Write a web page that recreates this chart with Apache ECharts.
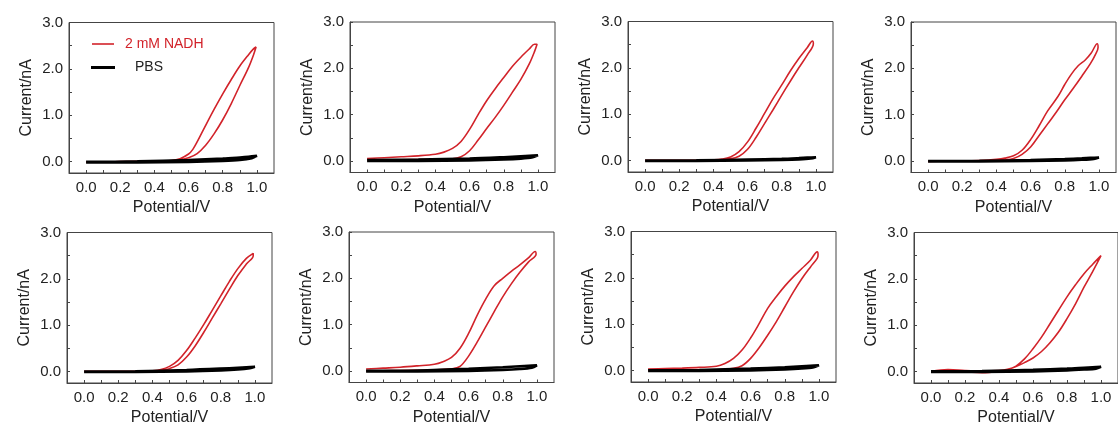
<!DOCTYPE html>
<html>
<head>
<meta charset="utf-8">
<script src="https://cdn.jsdelivr.net/npm/echarts@6/dist/echarts.min.js"></script>
<style>
html,body{margin:0;padding:0;background:#ffffff;}
#chart{width:1118px;height:427px;}
</style>
</head>
<body>
<div id="chart"></div>
<script>
// ---------- tick values ----------
const xLabelValues = [0.0, 0.2, 0.4, 0.6, 0.8, 1.0];
const xTickValues = [0.0, 0.1, 0.2, 0.3, 0.4, 0.5, 0.6, 0.7, 0.8, 0.9, 1.0];
const yLabelValues = [0.0, 1.0, 2.0, 3.0];
const yTickValues = [0.0, 0.5, 1.0, 1.5, 2.0, 2.5, 3.0];

const legendNames = ['2 mM NADH', 'PBS'];

// ---------- 2 mM NADH cyclic voltammograms: [potential V, current nA] (forward sweep then reverse sweep) ----------
const nadh1 = [[0,-0.01],[0.1,-0.01],[0.2,-0.005],[0.3,0],[0.4,0.0],[0.5,0.015],[0.55,0.035],[0.6,0.08],[0.65,0.17],[0.7,0.35],[0.75,0.6],[0.8,0.9],[0.85,1.25],[0.9,1.64],[0.95,2.02],[0.98,2.3],[0.995,2.47],
  [0.98,2.43],[0.95,2.3],[0.9,2.06],[0.85,1.77],[0.8,1.46],[0.75,1.13],[0.7,0.78],[0.65,0.42],[0.625,0.26],[0.6,0.16],[0.55,0.06],[0.5,0.02],[0.4,0.005],[0.2,-0.01],[0,-0.015]];
const nadh2 = [[0,0.02],[0.1,0.02],[0.2,0.025],[0.3,0.03],[0.4,0.035],[0.5,0.045],[0.55,0.09],[0.6,0.22],[0.65,0.45],[0.7,0.7],[0.75,0.94],[0.8,1.2],[0.85,1.48],[0.9,1.76],[0.95,2.1],[0.98,2.36],[0.995,2.52],
  [0.98,2.52],[0.95,2.42],[0.9,2.24],[0.85,2.04],[0.8,1.8],[0.75,1.56],[0.7,1.3],[0.65,1.0],[0.6,0.68],[0.55,0.42],[0.5,0.27],[0.45,0.19],[0.4,0.145],[0.3,0.11],[0.2,0.09],[0.1,0.07],[0,0.05]];
const nadh3 = [[0,0],[0.1,0],[0.2,0],[0.3,0.005],[0.4,0.01],[0.5,0.035],[0.55,0.09],[0.6,0.24],[0.65,0.5],[0.7,0.8],[0.75,1.1],[0.8,1.41],[0.85,1.71],[0.9,2.0],[0.95,2.28],[0.985,2.52],
  [0.98,2.58],[0.95,2.44],[0.9,2.2],[0.85,1.93],[0.8,1.63],[0.75,1.34],[0.7,1.02],[0.65,0.7],[0.6,0.4],[0.55,0.19],[0.5,0.075],[0.45,0.03],[0.4,0.015],[0.3,0.005],[0.2,0],[0,-0.005]];
const nadh4 = [[0,-0.01],[0.1,-0.005],[0.2,0],[0.3,0.005],[0.4,0.01],[0.45,0.02],[0.5,0.05],[0.55,0.14],[0.6,0.3],[0.65,0.55],[0.7,0.8],[0.75,1.05],[0.8,1.32],[0.85,1.57],[0.9,1.83],[0.95,2.1],[0.98,2.3],[0.995,2.45],
  [0.99,2.53],[0.955,2.33],[0.92,2.18],[0.88,2.06],[0.84,1.88],[0.8,1.65],[0.76,1.39],[0.7,1.08],[0.65,0.76],[0.6,0.46],[0.55,0.23],[0.5,0.11],[0.45,0.06],[0.4,0.035],[0.3,0.01],[0.2,0],[0,-0.005]];
const nadh5 = [[0,0],[0.1,0],[0.2,0],[0.3,0.005],[0.4,0.01],[0.45,0.02],[0.5,0.06],[0.55,0.14],[0.6,0.31],[0.65,0.55],[0.7,0.84],[0.75,1.15],[0.8,1.46],[0.85,1.77],[0.9,2.07],[0.95,2.32],[0.99,2.5],
  [0.99,2.55],[0.95,2.44],[0.9,2.22],[0.85,1.94],[0.8,1.63],[0.75,1.32],[0.7,1.01],[0.65,0.72],[0.6,0.45],[0.55,0.24],[0.5,0.11],[0.45,0.04],[0.4,0.015],[0.3,0.005],[0.2,0],[0,-0.005]];
const nadh6 = [[0,0],[0.1,0.005],[0.2,0.01],[0.3,0.015],[0.4,0.02],[0.5,0.045],[0.55,0.1],[0.6,0.32],[0.65,0.62],[0.7,0.95],[0.75,1.28],[0.8,1.6],[0.85,1.88],[0.9,2.13],[0.95,2.35],[0.995,2.52],
  [0.99,2.58],[0.95,2.44],[0.9,2.29],[0.85,2.15],[0.8,2.0],[0.75,1.84],[0.7,1.55],[0.65,1.2],[0.6,0.81],[0.55,0.49],[0.5,0.29],[0.45,0.2],[0.4,0.145],[0.3,0.11],[0.2,0.08],[0.1,0.06],[0,0.04]];
const nadh7 = [[0,0],[0.1,0.005],[0.2,0.005],[0.3,0.01],[0.4,0.015],[0.5,0.045],[0.55,0.1],[0.6,0.26],[0.65,0.49],[0.7,0.76],[0.75,1.05],[0.8,1.37],[0.85,1.69],[0.9,1.98],[0.95,2.23],[0.99,2.42],[0.995,2.5],
  [0.99,2.56],[0.95,2.38],[0.9,2.2],[0.85,2.02],[0.8,1.82],[0.75,1.59],[0.7,1.34],[0.65,1.01],[0.6,0.7],[0.55,0.44],[0.5,0.26],[0.45,0.15],[0.4,0.09],[0.3,0.065],[0.2,0.05],[0.1,0.04],[0,0.03]];
const nadh8 = [[0,-0.005],[0.1,0.0],[0.2,-0.01],[0.3,-0.03],[0.4,0.0],[0.45,0.04],[0.5,0.105],[0.55,0.19],[0.6,0.29],[0.65,0.43],[0.7,0.62],[0.75,0.85],[0.8,1.14],[0.85,1.46],[0.9,1.82],[0.95,2.15],[1.0,2.5],
  [0.95,2.31],[0.9,2.11],[0.85,1.87],[0.8,1.61],[0.75,1.32],[0.7,1.03],[0.65,0.74],[0.6,0.49],[0.55,0.27],[0.5,0.115],[0.45,0.045],[0.4,0.02],[0.3,0.01],[0.2,0.02],[0.1,0.04],[0,0.0]];

// ---------- PBS blank cyclic voltammograms ----------
const pbs1 = [[0,-0.02],[0.3,-0.02],[0.6,-0.01],[0.8,0.01],[0.9,0.03],[0.97,0.07],[1.0,0.12],[0.95,0.1],[0.9,0.085],[0.8,0.06],[0.6,0.03],[0.3,0.0],[0,-0.01]];
const pbs2 = [[0,0.0],[0.3,0.0],[0.6,0.01],[0.8,0.03],[0.9,0.05],[0.97,0.08],[1.0,0.12],[0.95,0.11],[0.9,0.1],[0.8,0.08],[0.6,0.05],[0.3,0.03],[0,0.02]];
const pbs3 = [[0,-0.01],[0.3,-0.01],[0.6,0.0],[0.8,0.01],[0.9,0.02],[0.97,0.04],[1.0,0.07],[0.95,0.06],[0.9,0.05],[0.8,0.035],[0.6,0.02],[0.3,0.0],[0,-0.005]];
const pbs4 = [[0,-0.01],[0.3,-0.01],[0.6,0.0],[0.8,0.01],[0.9,0.025],[0.97,0.045],[1.0,0.075],[0.95,0.065],[0.9,0.055],[0.8,0.04],[0.6,0.02],[0.3,0.0],[0,-0.005]];
const pbs5 = [[0,-0.01],[0.3,-0.01],[0.6,0.0],[0.8,0.02],[0.9,0.04],[0.97,0.07],[1.0,0.1],[0.95,0.09],[0.9,0.08],[0.8,0.06],[0.6,0.03],[0.3,0.005],[0,-0.005]];
const pbs6 = [[0,-0.01],[0.3,-0.01],[0.6,0.0],[0.8,0.02],[0.9,0.04],[0.97,0.07],[1.0,0.12],[0.95,0.11],[0.9,0.1],[0.8,0.08],[0.6,0.045],[0.3,0.01],[0,0.0]];
const pbs7 = [[0,-0.01],[0.3,-0.01],[0.6,0.0],[0.8,0.02],[0.9,0.04],[0.97,0.07],[1.0,0.11],[0.95,0.1],[0.9,0.09],[0.8,0.07],[0.6,0.04],[0.3,0.01],[0,0.0]];
const pbs8 = [[0,-0.01],[0.3,-0.01],[0.6,0.0],[0.8,0.02],[0.9,0.04],[0.97,0.06],[1.0,0.1],[0.95,0.09],[0.9,0.08],[0.8,0.06],[0.6,0.035],[0.3,0.01],[0,0.0]];

const nadhPanels = [nadh1, nadh2, nadh3, nadh4, nadh5, nadh6, nadh7, nadh8];
const pbsPanels = [pbs1, pbs2, pbs3, pbs4, pbs5, pbs6, pbs7, pbs8];

// ---------- layout ----------
const gridLefts = [69, 350, 628, 911, 67, 349, 631, 914];
const gridTops = [22.5, 22, 21.5, 22, 232.5, 232, 231.5, 232.5];
const RED = '#d2232a';
const AXIS = '#444444';
const TEXT = '#222222';
const FONT = 'Liberation Sans, Arial, Helvetica, sans-serif';

const grids = [], xAxes = [], yAxes = [], series = [];
for (let i = 0; i < 8; i++) {
  grids.push({ left: gridLefts[i], top: gridTops[i], width: 205, height: 150.5,
    show: true, borderColor: AXIS, borderWidth: 1, backgroundColor: 'transparent' });
  xAxes.push({
    type: 'value', gridIndex: i, min: -0.1, max: 1.1,
    name: 'Potential/V', nameLocation: 'middle', nameGap: 27,
    nameTextStyle: { color: TEXT, fontSize: 16, fontFamily: FONT },
    axisLine: { show: true, onZero: false, lineStyle: { color: AXIS, width: 1 } },
    axisTick: { show: true, inside: true, length: 3, customValues: xTickValues, lineStyle: { color: AXIS } },
    axisLabel: { show: true, margin: 7, customValues: xLabelValues, color: TEXT, fontSize: 15, fontFamily: FONT,
      formatter: v => v.toFixed(1) },
    splitLine: { show: false }
  });
  yAxes.push({
    type: 'value', gridIndex: i, min: -0.25, max: 3.0,
    name: 'Current/nA', nameLocation: 'middle', nameGap: 34,
    nameTextStyle: { color: TEXT, fontSize: 16, fontFamily: FONT },
    axisLine: { show: true, onZero: false, lineStyle: { color: AXIS, width: 1 } },
    axisTick: { show: true, inside: true, length: 3, customValues: yTickValues, lineStyle: { color: AXIS } },
    axisLabel: { show: true, margin: 6, customValues: yLabelValues, color: TEXT, fontSize: 15, fontFamily: FONT,
      formatter: v => v.toFixed(1) },
    splitLine: { show: false }
  });
  series.push({
    name: legendNames[0], type: 'line', xAxisIndex: i, yAxisIndex: i,
    data: nadhPanels[i], symbol: 'none', smooth: 0.35,
    lineStyle: { color: RED, width: 1.6 }, itemStyle: { color: RED }, z: 2, animation: false
  });
  series.push({
    name: legendNames[1], type: 'line', xAxisIndex: i, yAxisIndex: i,
    data: pbsPanels[i], symbol: 'none', smooth: 0.3,
    lineStyle: { color: '#000000', width: 2.6 }, itemStyle: { color: '#000000' }, z: 3, animation: false
  });
}

const chart = echarts.init(document.getElementById('chart'), null, { renderer: 'canvas' });
chart.setOption({
  backgroundColor: '#ffffff',
  animation: false,
  grid: grids,
  xAxis: xAxes,
  yAxis: yAxes,
  legend: [
    { data: [legendNames[0]], left: 92, top: 37, padding: 0, icon: 'rect', itemWidth: 22, itemHeight: 1.6,
      itemStyle: { color: RED, borderWidth: 0 }, selectedMode: false,
      textStyle: { color: RED, fontSize: 14, fontFamily: FONT, padding: [0, 0, 0, 6] } },
    { data: [legendNames[1]], left: 91, top: 60.5, padding: 0, icon: 'rect', itemWidth: 24, itemHeight: 3,
      itemStyle: { color: '#000000', borderWidth: 0 }, selectedMode: false,
      textStyle: { color: TEXT, fontSize: 14, fontFamily: FONT, padding: [0, 0, 0, 15] } }
  ],
  series: series
});
</script>
</body>
</html>
